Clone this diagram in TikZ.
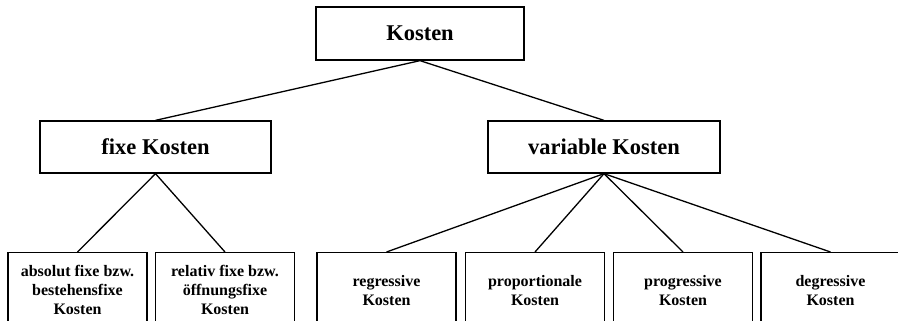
\documentclass[tikz,border=0pt]{standalone}
\usepackage{fontspec}
\setmainfont{Liberation Serif}
\usetikzlibrary{positioning}
\tikzset{
    cost box/.style={
        draw,
        line width=1.3pt,
        rectangle,
        align=center,
        font=\bfseries\fontsize{22.5}{26}\selectfont
    },
    kind box/.style={
        draw,
        line width=1.3pt,
        rectangle,
        anchor=north,
        minimum width=139pt,
        minimum height=75pt,
        align=center,
        font=\bfseries\fontsize{16}{19}\selectfont
    },
    tree line/.style={
        line width=1.3pt
    }
}

\begin{document}
\begin{tikzpicture}[x=1pt, y=-1pt]
                \useasboundingbox (0,0) rectangle (898,321);
                \clip (0,0) rectangle (898,321);
                % top level
                \node [cost box, minimum width=208pt, minimum height=53pt] (Kosten) at (420, 33.5) {Kosten};
                \node [cost box, minimum width=231pt, minimum height=52pt] (Fix) at (155.5, 147) {fixe Kosten};
                \node [cost box, minimum width=232pt, minimum height=52pt] (Var) at (604, 147) {variable Kosten};
                % lower level
                \node [kind box] (K1) at (77.5, 252) {absolut fixe bzw.\\bestehensfixe\\Kosten};
                \node [kind box] (K2) at (225, 252) {relativ fixe bzw.\\öffnungsfixe\\Kosten};
                \node [kind box] (K3) at (386.5, 252) {regressive\\Kosten};
                \node [kind box] (K4) at (535, 252) {proportionale\\Kosten};
                \node [kind box] (K5) at (683, 252) {progressive\\Kosten};
                \node [kind box] (K6) at (830.5, 252) {degressive\\Kosten};
                \draw [tree line] (Fix.north) -- (Kosten.south) -- (Var.north);
                \foreach \k in {K1,K2}
                    \draw [tree line] (Fix.south) -- (\k.north);
                \foreach \k in {K3,K4,K5,K6}
                    \draw [tree line] (Var.south) -- (\k.north);
            \end{tikzpicture}
\end{document}
